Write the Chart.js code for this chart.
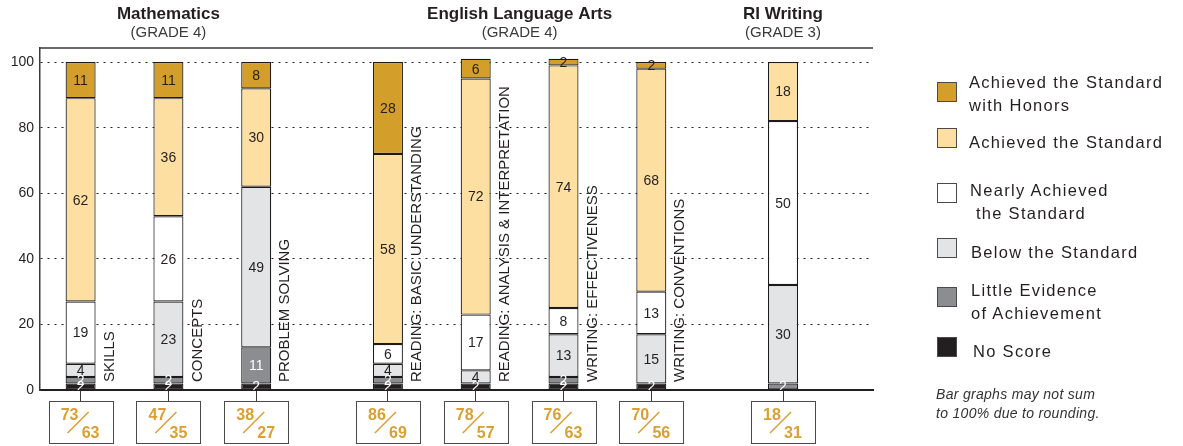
<!DOCTYPE html>
<html lang="en">
<head>
  <meta charset="UTF-8">
  <title>Assessment Results</title>
  <script src="https://cdn.jsdelivr.net/npm/chart.js"></script>
  <style>
    body { margin: 0; background: #fff; font-family: 'Liberation Sans', Arial, sans-serif; color: #231f20; }
    .wrap { position: relative; width: 1183px; height: 446px; overflow: hidden; }
    canvas { position: absolute; left: 0; top: 0; }
    .sw { position: absolute; left: 937px; width: 20px; height: 20px; box-sizing: border-box; border: 1px solid #4a4a4a; }
    .lg { position: absolute; font-size: 16.5px; letter-spacing: 1.3px; line-height: 23px; white-space: pre; }
    .note { position: absolute; left: 936px; top: 385px; font-size: 14px; font-style: italic; line-height: 18.5px; letter-spacing: 0.3px; color: #333; }
  </style>
</head>
<body>
  <div class="wrap" id="wrap">
    <canvas id="chart" width="1183" height="446"></canvas>
    <div class="note">Bar graphs may not sum<br>to 100% due to rounding.</div>
  </div>
  <script>
    // data
    const categories = ['SKILLS', 'CONCEPTS', 'PROBLEM SOLVING', 'READING: BASIC UNDERSTANDING',
      'READING: ANALYSIS & INTERPRETATION', 'WRITING: EFFECTIVENESS', 'WRITING: CONVENTIONS', ''];
    const subjects = ['Mathematics', 'Mathematics', 'Mathematics', 'English Language Arts',
      'English Language Arts', 'English Language Arts', 'English Language Arts', 'RI Writing'];
    const grades = ['(GRADE 4)', '(GRADE 4)', '(GRADE 4)', '(GRADE 4)', '(GRADE 4)', '(GRADE 4)', '(GRADE 4)', '(GRADE 3)'];

    const noScore        = [2, 2, 2, 2, 2, 2, 2, 0];
    const littleEvidence = [2, 2, 11, 2, 0, 2, 0, 2];
    const belowStandard  = [4, 23, 49, 4, 4, 13, 15, 30];
    const nearlyAchieved = [19, 26, 0, 6, 17, 8, 13, 50];
    const achieved       = [62, 36, 30, 58, 72, 74, 68, 18];
    const withHonors     = [11, 11, 8, 28, 6, 2, 2, 0];

    const boxTop    = [73, 47, 38, 86, 78, 76, 70, 18];
    const boxBottom = [63, 35, 27, 69, 57, 63, 56, 31];

    const yTicks = [0, 20, 40, 60, 80, 100];

    const seriesLabels = ['No Score', 'Little Evidence\nof Achievement', 'Below the Standard',
      'Nearly Achieved\n the Standard', 'Achieved the Standard', 'Achieved the Standard\nwith Honors'];
    const seriesValues = [noScore, littleEvidence, belowStandard, nearlyAchieved, achieved, withHonors];
    const seriesColors = ['#231f20', '#8c8d90', '#e3e4e6', '#ffffff', '#fddfa1', '#d49e2b'];
    const textColors = ['#ffffff', '#ffffff', '#231f20', '#231f20', '#231f20', '#231f20'];
    const gold = '#dc9f31';
    const font = '"Liberation Sans", Arial, sans-serif';

    // bars sit 4 slots apart, with 2 extra slots between subjects
    const groups = [...new Set(subjects)];
    const slots = categories.map((c, i) => 4 * i + 2 * groups.indexOf(subjects[i]));

    const datasets = seriesValues.map((vals, s) => ({
      label: seriesLabels[s].replace('\n', ' '),
      data: vals.map((v, i) => ({ x: slots[i], y: v })),
      backgroundColor: seriesColors[s],
      borderColor: '#1c1a1a',
      borderWidth: 1.2,
      borderSkipped: false,
      inflateAmount: 0,
      barThickness: 30
    }));

    const extras = {
      id: 'extras',
      afterDatasetsDraw(chart) {
        const { ctx, chartArea: a, scales: { x, y } } = chart;
        // numbers inside segments
        ctx.save();
        ctx.beginPath();
        ctx.rect(a.left, a.top - 20, a.right - a.left, a.bottom - a.top + 20);
        ctx.clip();
        ctx.font = '14px ' + font;
        ctx.textAlign = 'center';
        ctx.textBaseline = 'middle';
        chart.data.datasets.forEach((ds, d) => {
          chart.getDatasetMeta(d).data.forEach((bar, i) => {
            const v = ds.data[i].y;
            if (!v) return;
            ctx.fillStyle = textColors[d];
            ctx.fillText(v, bar.x, (bar.y + bar.base) / 2 + 1);
          });
        });
        ctx.restore();

        // top frame line
        ctx.save();
        ctx.strokeStyle = '#3a3a3a';
        ctx.lineWidth = 1.5;
        ctx.beginPath();
        ctx.moveTo(a.left, a.top);
        ctx.lineTo(a.right, a.top);
        ctx.stroke();
        ctx.restore();

        // vertical category names
        ctx.save();
        ctx.font = '15px ' + font;
        ctx.fillStyle = '#231f20';
        ctx.textAlign = 'left';
        ctx.textBaseline = 'middle';
        categories.forEach((c, i) => {
          if (!c) return;
          ctx.save();
          ctx.translate(x.getPixelForValue(slots[i]) + 29, y.getPixelForValue(0) - 8);
          ctx.rotate(-Math.PI / 2);
          ctx.fillText(c, 0, 0);
          ctx.restore();
        });
        ctx.restore();

        // subject headers
        ctx.save();
        ctx.textAlign = 'center';
        ctx.textBaseline = 'middle';
        groups.forEach(g => {
          const idx = subjects.map((s, i) => s === g ? i : -1).filter(i => i >= 0);
          const cx = idx.reduce((t, i) => t + x.getPixelForValue(slots[i]), 0) / idx.length;
          ctx.fillStyle = '#231f20';
          ctx.font = 'bold 17px ' + font;
          ctx.fillText(g, cx, 14);
          ctx.fillStyle = '#3a3a3a';
          ctx.font = '15px ' + font;
          ctx.fillText(grades[idx[0]], cx, 33);
        });
        ctx.restore();

        // boxes under the bars
        ctx.save();
        categories.forEach((c, i) => {
          const cx = x.getPixelForValue(slots[i]);
          ctx.strokeStyle = '#4a4a4a';
          ctx.lineWidth = 1;
          ctx.strokeRect(Math.round(cx - 32) + 0.5, 401.5, 64, 42);
          ctx.strokeStyle = gold;
          ctx.lineWidth = 1.5;
          ctx.beginPath();
          ctx.moveTo(cx - 13, 433);
          ctx.lineTo(cx + 8, 412);
          ctx.stroke();
          ctx.fillStyle = gold;
          ctx.font = 'bold 16px ' + font;
          ctx.textAlign = 'center';
          ctx.textBaseline = 'middle';
          ctx.fillText(boxTop[i], cx - 11, 416);
          ctx.fillText(boxBottom[i], cx + 10, 434);
        });
        ctx.restore();
      }
    };

    new Chart(document.getElementById('chart'), {
      type: 'bar',
      data: { datasets },
      options: {
        responsive: false,
        animation: false,
        layout: { padding: { top: 48, right: 310, left: 0, bottom: 0 } },
        plugins: { legend: { display: false }, tooltip: { enabled: false } },
        scales: {
          x: {
            type: 'linear',
            stacked: true,
            offset: false,
            min: -1.85,
            max: 36.1,
            afterFit: s => { s.height = 56; },
            afterBuildTicks: s => { s.ticks = slots.map(v => ({ value: v })); },
            ticks: { display: false },
            grid: { offset: false, drawOnChartArea: false, drawTicks: true, tickLength: 11, tickColor: '#3a3a3a', tickWidth: 1 },
            border: { display: true, color: '#231f20', width: 2 }
          },
          y: {
            stacked: true,
            min: 0,
            max: 104.3,
            afterFit: s => { s.width = 40; },
            afterBuildTicks: s => { s.ticks = yTicks.map(v => ({ value: v })); },
            ticks: { color: '#231f20', font: { size: 14, family: font }, padding: 6 },
            grid: { color: '#231f20', lineWidth: 1, drawTicks: false },
            border: { display: true, color: '#3a3a3a', width: 1.5, dash: [2, 5] }
          }
        }
      },
      plugins: [extras]
    });

    // legend, top item first
    const swatchTop = [82, 128, 183, 238, 287, 337];
    const textTop = [71, 131, 179, 241, 279, 340];
    const textLeft = [969, 969, 970, 971, 971, 973];
    const wrap = document.getElementById('wrap');
    seriesLabels.slice().reverse().forEach((lab, k) => {
      const s = seriesLabels.length - 1 - k;
      const sw = document.createElement('div');
      sw.className = 'sw';
      sw.style.top = swatchTop[k] + 'px';
      sw.style.background = seriesColors[s];
      wrap.appendChild(sw);
      const t = document.createElement('div');
      t.className = 'lg';
      t.style.top = textTop[k] + 'px';
      t.style.left = textLeft[k] + 'px';
      t.textContent = lab;
      wrap.appendChild(t);
    });
  </script>
</body>
</html>
